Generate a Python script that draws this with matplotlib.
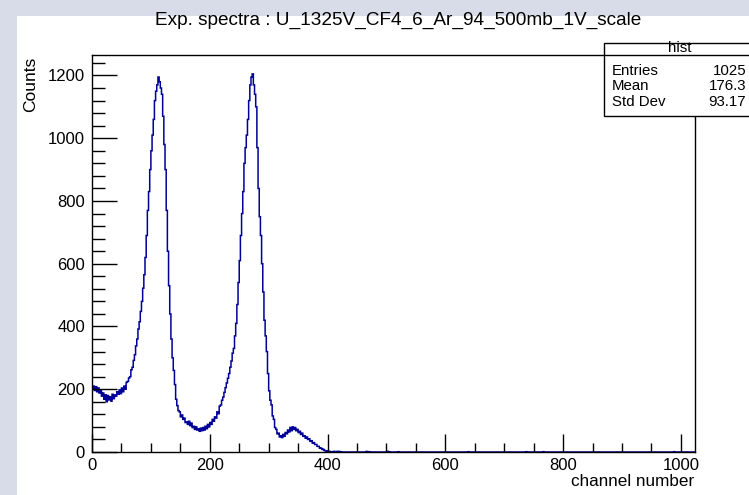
import numpy as np
import matplotlib
matplotlib.use("Agg")
import matplotlib.pyplot as plt
from matplotlib.patches import Rectangle
from matplotlib.ticker import MultipleLocator

# ---- data ----
# counts in 2-channel bins, channels 0..424
dense_counts = [
    200, 210, 196, 208, 192, 204, 188, 196, 178, 188,   # 0-20
    168, 182, 160, 180, 166, 176, 162, 184, 170, 182,   # 20-40
    178, 192, 184, 198, 186, 204, 192, 210, 200, 222,   # 40-60
    225, 236, 240, 262, 270, 292, 310, 338, 360, 392,   # 60-80
    415, 448, 480, 522, 565, 620, 690, 770, 830, 900,   # 80-100
    960, 1010, 1060, 1120, 1150, 1170, 1195, 1180, 1160, 1140,  # 100-120
    1070, 980, 900, 770, 640, 530, 440, 360, 300, 260,  # 120-140
    215, 168, 148, 132, 128, 112, 118, 104, 108, 94,    # 140-160
    96, 88, 98, 84, 92, 78, 82, 72, 80, 70,             # 160-180
    74, 66, 76, 68, 78, 70, 82, 74, 88, 80,             # 180-200
    94, 88, 104, 98, 112, 108, 128, 122, 146, 150,      # 200-220
    165, 175, 190, 205, 220, 235, 250, 270, 290, 315,   # 220-240
    330, 370, 410, 470, 540, 610, 690, 760, 830, 920,   # 240-260
    970, 1010, 1060, 1120, 1170, 1195, 1205, 1170, 1140, 1100,  # 260-280
    970, 840, 750, 690, 600, 510, 420, 370, 320, 250,   # 280-300
    195, 165, 150, 115, 104, 78, 72, 58, 60, 48,        # 300-320
    52, 46, 56, 50, 62, 58, 70, 64, 78, 68,             # 320-340
    80, 72, 78, 68, 72, 62, 66, 56, 60, 50,             # 340-360
    52, 44, 48, 40, 42, 34, 36, 28, 30, 24,             # 360-380
    24, 18, 18, 13, 12, 9, 8, 5, 4, 3,                  # 380-400
    2, 2, 1, 0, 0, 2, 1, 0, 2, 2, 1, 0,                 # 400-424
]
dense_width = 2
# isolated low counts further out (channel, count)
sparse_channels = [466, 470, 502, 504, 520, 639, 737, 766, 988]
sparse_counts = [2, 1, 2, 1, 1, 1, 1, 1, 1]

n_channels = 1024
title = "Exp. spectra : U_1325V_CF4_6_Ar_94_500mb_1V_scale"
xlabel = "channel number"
ylabel = "Counts"
stats_name = "hist"
stats_rows = [("Entries", "1025"), ("Mean", "176.3"), ("Std Dev", "93.17")]

# ---- build histogram ----
counts = np.zeros(n_channels)
for i, c in enumerate(dense_counts):
    counts[i * dense_width:(i + 1) * dense_width] = c
for ch, c in zip(sparse_channels, sparse_counts):
    counts[ch] = c
edges = np.arange(n_channels + 1)

plt.rcParams['font.family'] = ['Liberation Sans', 'DejaVu Sans']

W, H = 749, 495
fig = plt.figure(figsize=(W / 100, H / 100), dpi=100)
fig.patch.set_facecolor("white")
border = "#d7dce8"
fig.patches.append(Rectangle((0, 0), 17 / W, 1, transform=fig.transFigure,
                             facecolor=border, edgecolor="none", zorder=-5))
fig.patches.append(Rectangle((0, 1 - 16 / H), 1, 16 / H, transform=fig.transFigure,
                             facecolor=border, edgecolor="none", zorder=-5))

ax = fig.add_axes([92 / W, 1 - 452 / H, (695 - 92) / W, (452 - 55) / H])
ax.stairs(counts, edges, color="#000099", linewidth=1.1)
ax.set_xlim(0, n_channels)
ax.set_ylim(0, counts.max() * 1.05)

ax.xaxis.set_major_locator(MultipleLocator(200))
ax.xaxis.set_minor_locator(MultipleLocator(50))
ax.yaxis.set_major_locator(MultipleLocator(200))
ax.yaxis.set_minor_locator(MultipleLocator(40))
ax.tick_params(axis="both", which="both", direction="in", top=False, right=False,
               labelsize=12, color="black", width=1)
ax.tick_params(axis="y", which="major", length=18, pad=5)
ax.tick_params(axis="y", which="minor", length=9)
ax.tick_params(axis="x", which="major", length=13, pad=4)
ax.tick_params(axis="x", which="minor", length=6.5)
for s in ax.spines.values():
    s.set_linewidth(1)

fig.text(398 / W, 1 - 20 / H, title, ha="center", va="center", fontsize=13.7)
fig.text(694 / W, 1 - 481 / H, xlabel, ha="right", va="center", fontsize=12.3)
fig.text(31 / W, 1 - 57 / H, ylabel, ha="center", va="top", rotation=90, fontsize=12.5)

# stats box
bx0, by0, bx1, by1 = 604, 43, 760, 116
fig.patches.append(Rectangle((bx0 / W, 1 - by1 / H), (bx1 - bx0) / W, (by1 - by0) / H,
                             transform=fig.transFigure, facecolor="white",
                             edgecolor="black", linewidth=1, zorder=5))
fig.add_artist(plt.Line2D([bx0 / W, 1], [1 - 54.5 / H, 1 - 54.5 / H],
                          transform=fig.transFigure, color="black", linewidth=1, zorder=6))
fig.text(680 / W, 1 - 48.5 / H, stats_name, ha="center", va="center", fontsize=10.8, zorder=7)
for i, (k, v) in enumerate(stats_rows):
    y = 1 - (71.5 + 15 * i) / H
    fig.text(612 / W, y, k, ha="left", va="center", fontsize=10.8, zorder=7)
    fig.text(746 / W, y, v, ha="right", va="center", fontsize=10.8, zorder=7)

fig.savefig("out.png", dpi=100)
